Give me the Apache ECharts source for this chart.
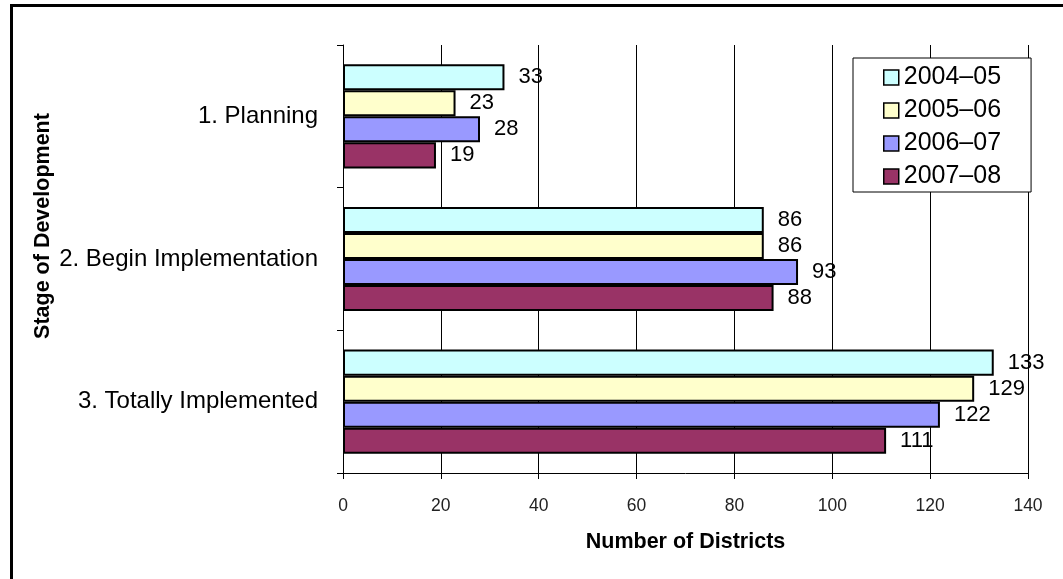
<!DOCTYPE html>
<html>
<head>
<meta charset="utf-8">
<script src="https://cdn.jsdelivr.net/npm/echarts@6/dist/echarts.min.js"></script>
<style>
  html, body { margin: 0; padding: 0; background: #fff; }
  #chart { position: absolute; left: 0; top: 0; width: 1063px; height: 579px; }
  #frame { position: absolute; left: 10px; top: 4px; width: 1100px; height: 700px;
           border-left: 3px solid #000; border-top: 3px solid #000; pointer-events: none; }
</style>
</head>
<body>
<div id="chart"></div>
<div id="frame"></div>
<script>
// Stages of development and the number of districts in each, per school year
const stages = ['1. Planning', '2. Begin Implementation', '3. Totally Implemented'];
const years = ['2004\u201305', '2005\u201306', '2006\u201307', '2007\u201308'];
const districts2004 = [33, 86, 133];
const districts2005 = [23, 86, 129];
const districts2006 = [28, 93, 122];
const districts2007 = [19, 88, 111];
const valueTicks = [0, 20, 40, 60, 80, 100, 120, 140];

const yearValues = [districts2004, districts2005, districts2006, districts2007];
const fills = ['#CCFFFF', '#FFFFCC', '#9999FF', '#993366'];
const FONT = 'Liberation Sans, Arial, sans-serif';

const chart = echarts.init(document.getElementById('chart'), null, { renderer: 'canvas' });

chart.setOption({
  animation: false,
  backgroundColor: '#fff',
  textStyle: { fontFamily: FONT },
  grid: { left: 343, right: 35, top: 45, bottom: 106, containLabel: false },
  legend: {
    orient: 'vertical',
    left: 853,
    top: 58,
    data: years,
    backgroundColor: '#fff',
    borderColor: '#000',
    borderWidth: 1,
    padding: [7, 30, 3, 30],
    itemWidth: 15,
    itemHeight: 15,
    itemGap: 8,
    icon: 'rect',
    itemStyle: { borderColor: '#000', borderWidth: 1.5 },
    textStyle: { fontFamily: FONT, fontSize: 25, lineHeight: 24, color: '#000' }
  },
  xAxis: {
    type: 'value',
    min: valueTicks[0],
    max: valueTicks[valueTicks.length - 1],
    interval: valueTicks[1] - valueTicks[0],
    name: 'Number of Districts',
    nameLocation: 'middle',
    nameGap: 58,
    nameTextStyle: { fontFamily: FONT, fontSize: 21.5, fontWeight: 'bold', color: '#000' },
    axisLine: { show: true, lineStyle: { color: '#000', width: 1 } },
    axisTick: { show: true, length: 6, lineStyle: { color: '#000' } },
    axisLabel: { margin: 24, fontSize: 17.5, color: '#222', fontFamily: FONT },
    splitLine: { show: true, lineStyle: { color: '#000', width: 1 } }
  },
  yAxis: {
    type: 'category',
    data: stages,
    inverse: true,
    axisLine: { show: true, lineStyle: { color: '#000', width: 1 } },
    axisTick: { show: true, length: 6, inside: false, lineStyle: { color: '#000' } },
    axisLabel: { margin: 25, fontSize: 24, color: '#000', fontFamily: FONT },
    splitLine: { show: false }
  },
  graphic: [{
    type: 'text',
    x: 43,
    y: 226,
    rotation: Math.PI / 2,
    style: {
      text: 'Stage of Development',
      font: 'bold 21.5px ' + FONT,
      fill: '#000',
      align: 'center',
      verticalAlign: 'middle'
    }
  }],
  series: years.map((y, i) => ({
    name: y,
    type: 'bar',
    data: yearValues[i],
    barGap: '0%',
    barCategoryGap: '27%',
    itemStyle: { color: fills[i], borderColor: '#000', borderWidth: 2 },
    label: {
      show: true,
      position: 'right',
      distance: 14,
      fontSize: 22,
      color: '#000',
      fontFamily: FONT
    },
    z: 2
  }))
});
</script>
</body>
</html>
